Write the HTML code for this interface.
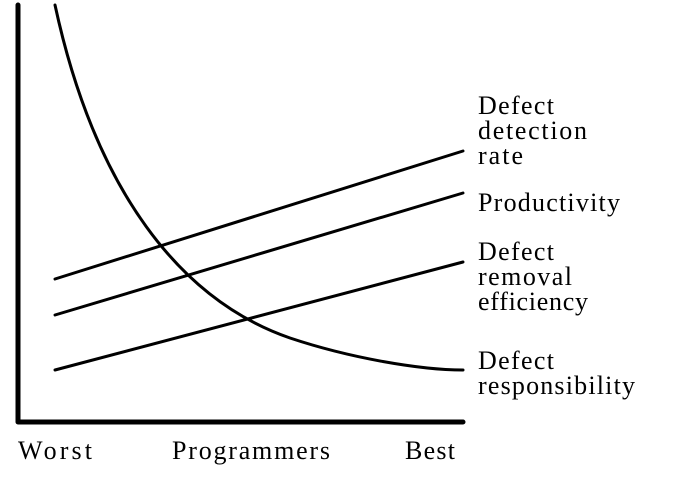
<!DOCTYPE html>
<html><head><style>
html,body{margin:0;padding:0;background:#fff;}
svg text{font-family:"Liberation Serif",serif;font-size:26px;fill:#000;}
</style></head><body>
<svg width="682" height="472" viewBox="0 0 682 472" xmlns="http://www.w3.org/2000/svg">
<polyline points="18,5 18,422 463,422" fill="none" stroke="#000" stroke-width="5" stroke-linecap="round" stroke-linejoin="round"/>
<g stroke="#000" stroke-width="3" fill="none" stroke-linecap="round">
<line x1="55" y1="279" x2="463" y2="151"/>
<line x1="55" y1="315" x2="463" y2="193"/>
<line x1="55" y1="370" x2="463" y2="262"/>
<path d="M55,5 C95,190 180,300 290,338 C350,358 420,370 463,370"/>
</g>
<text x="478" y="114" textLength="76">Defect</text>
<text x="478" y="139" textLength="109">detection</text>
<text x="478" y="164" textLength="45">rate</text>
<text x="478" y="211" textLength="142">Productivity</text>
<text x="478" y="260" textLength="76">Defect</text>
<text x="478" y="285" textLength="94">removal</text>
<text x="478" y="310" textLength="110">efficiency</text>
<text x="478" y="369" textLength="76">Defect</text>
<text x="478" y="394" textLength="157">responsibility</text>
<text x="18" y="459" textLength="74">Worst</text>
<text x="172" y="459" textLength="158">Programmers</text>
<text x="405" y="459" textLength="50">Best</text>
</svg>
</body></html>
